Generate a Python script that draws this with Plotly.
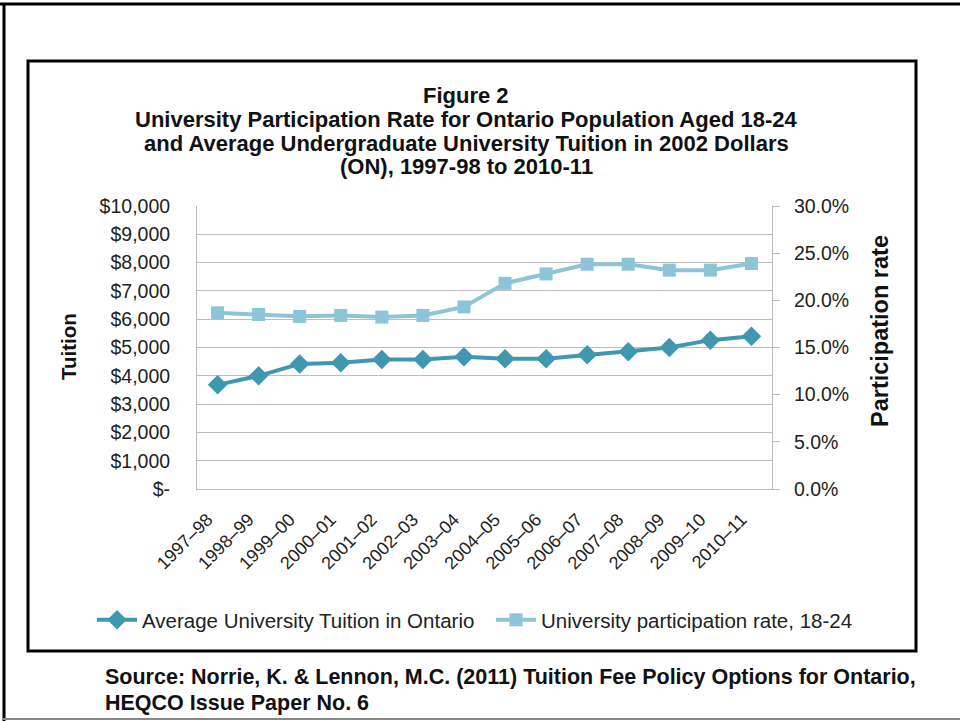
import plotly.graph_objects as go

# Academic years on the category axis
years = ["1997–98", "1998–99", "1999–00", "2000–01", "2001–02", "2002–03", "2003–04",
         "2004–05", "2005–06", "2006–07", "2007–08", "2008–09", "2009–10", "2010–11"]

# Average undergraduate tuition in Ontario (2002 dollars)
tuition = [3680, 4000, 4420, 4460, 4580, 4580, 4670, 4600, 4600, 4740, 4850, 5000, 5260, 5400]

# University participation rate, ages 18-24 (fraction)
participation = [0.1868, 0.1850, 0.1830, 0.1840, 0.1822, 0.1840, 0.1930, 0.2180, 0.2280,
                 0.2383, 0.2383, 0.2320, 0.2320, 0.2390]

# Left axis tick labels
tuition_ticks = [0, 1000, 2000, 3000, 4000, 5000, 6000, 7000, 8000, 9000, 10000]
tuition_tick_text = ["$-", "$1,000", "$2,000", "$3,000", "$4,000", "$5,000",
                     "$6,000", "$7,000", "$8,000", "$9,000", "$10,000"]

# Figure geometry in pixels
W, H = 960, 721
L, R, T, B = 197, 188, 206, 232
PW, PH = W - L - R, H - T - B


def px(x):
    return (x - L) / PW


def py(y):
    return (H - B - y) / PH


DARK = "#3f97b0"
LIGHT = "#8ec4d7"
GRID = "#bdbdbd"
FONT = "Liberation Sans, Arial, sans-serif"

fig = go.Figure()
fig.add_trace(go.Scatter(
    x=years, y=tuition, name="Average University Tuition in Ontario",
    mode="lines+markers", line=dict(color=DARK, width=4),
    marker=dict(symbol="diamond", size=15, color=DARK), yaxis="y", legend="legend"))
fig.add_trace(go.Scatter(
    x=years, y=participation, name="University participation rate, 18-24",
    mode="lines+markers", line=dict(color=LIGHT, width=4),
    marker=dict(symbol="square", size=13, color=LIGHT), yaxis="y2", legend="legend2"))

legend_style = dict(orientation="h", xanchor="left", yanchor="middle",
                    font=dict(size=20.5, family=FONT, color="#222222"),
                    bgcolor="rgba(0,0,0,0)", itemwidth=40)

fig.update_layout(
    width=W, height=H,
    margin=dict(l=L, r=R, t=T, b=B, pad=0),
    paper_bgcolor="white", plot_bgcolor="white",
    font=dict(family=FONT, color="#222222"),
    showlegend=True,
    legend=dict(x=px(92), y=py(620), **legend_style),
    legend2=dict(x=px(491), y=py(620), **legend_style),
    xaxis=dict(type="category", range=[-0.5, len(years) - 0.5], showgrid=False,
               showline=True, linecolor=GRID, linewidth=1,
               ticks="", tickangle=-45, ticklabelshift=-10, ticklabelstandoff=12,
               tickfont=dict(size=18, family=FONT, color="#222222"),
               mirror=False, zeroline=False),
    yaxis=dict(range=[0, 10000], tickvals=tuition_ticks, ticktext=tuition_tick_text,
               showgrid=True, gridcolor=GRID, gridwidth=1, showline=True, linecolor=GRID,
               ticks="", ticklabelstandoff=22, zeroline=False,
               tickfont=dict(size=19.5, family=FONT, color="#222222")),
    yaxis2=dict(range=[0, 0.30], dtick=0.05, tickformat=".1%", overlaying="y", side="right",
                showgrid=False, showline=True, linecolor=GRID, ticks="outside", ticklen=7,
                tickcolor=GRID, zeroline=False, ticklabelstandoff=10,
                tickfont=dict(size=19.5, family=FONT, color="#222222")),
)

title_lines = [
    ("Figure 2", 95),
    ("University Participation Rate for Ontario Population Aged 18-24", 119),
    ("and Average Undergraduate University Tuition in 2002 Dollars", 143),
    ("(ON), 1997-98 to 2010-11", 167),
]
for text, y in title_lines:
    fig.add_annotation(text=f"<b>{text}</b>", x=px(466), y=py(y), xref="paper", yref="paper",
                       xanchor="center", yanchor="middle", showarrow=False,
                       font=dict(size=22, family=FONT, color="#111111"))

fig.add_annotation(text="<b>Tuition</b>", x=px(68), y=py(347), xref="paper", yref="paper",
                   textangle=-90, showarrow=False, xanchor="center", yanchor="middle",
                   font=dict(size=20.5, family=FONT, color="#111111"))
fig.add_annotation(text="<b>Participation rate</b>", x=px(880), y=py(331), xref="paper",
                   yref="paper", textangle=-90, showarrow=False, xanchor="center",
                   yanchor="middle", font=dict(size=23.5, family=FONT, color="#111111"))

fig.add_annotation(text="<b>Source: Norrie, K. & Lennon, M.C. (2011) Tuition Fee Policy Options for Ontario,</b>",
                   x=px(103), y=py(677), xref="paper", yref="paper", xanchor="left",
                   yanchor="middle", showarrow=False,
                   font=dict(size=21.5, family=FONT, color="#111111"))
fig.add_annotation(text="<b>HEQCO Issue Paper No. 6</b>",
                   x=px(103), y=py(703), xref="paper", yref="paper", xanchor="left",
                   yanchor="middle", showarrow=False,
                   font=dict(size=21.5, family=FONT, color="#111111"))

# Outer page frame and inner chart frame
fig.add_shape(type="line", xref="paper", yref="paper", x0=px(0), x1=px(960), y0=py(4), y1=py(4),
              line=dict(color="black", width=3))
fig.add_shape(type="line", xref="paper", yref="paper", x0=px(4), x1=px(4), y0=py(3), y1=py(721),
              line=dict(color="black", width=3))
fig.add_shape(type="line", xref="paper", yref="paper", x0=px(3), x1=px(960), y0=py(719), y1=py(719),
              line=dict(color="#888888", width=2))
fig.add_shape(type="rect", xref="paper", yref="paper", x0=px(28), x1=px(916), y0=py(61), y1=py(651),
              line=dict(color="black", width=3))

fig.write_html("out.html")
